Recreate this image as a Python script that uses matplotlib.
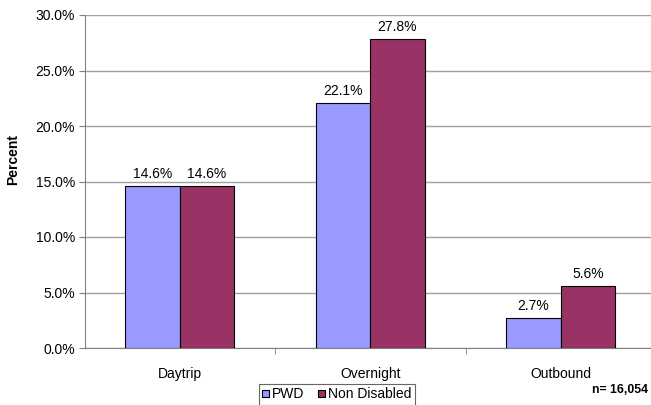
import matplotlib
matplotlib.use("Agg")
import matplotlib.pyplot as plt
import numpy as np

categories = ["Daytrip", "Overnight", "Outbound"]
pwd = [14.6, 22.1, 2.7]
non_disabled = [14.6, 27.8, 5.6]
series_names = ["PWD", "Non Disabled"]
yticks = [0, 5, 10, 15, 20, 25, 30]

plt.rcParams['font.family'] = ['Liberation Sans', 'DejaVu Sans']

fig = plt.figure(figsize=(6.51, 4.05), dpi=100)
W, H = 651, 405
left, right, top, bottom = 84.5, 656, 15, 348
ax = fig.add_axes([left / W, 1 - bottom / H, (right - left) / W, (bottom - top) / H])

x = np.arange(len(categories))
bw = 0.286
b1 = ax.bar(x - bw / 2, pwd, bw, color="#9999FF", edgecolor="black", linewidth=0.8, label=series_names[0], zorder=3)
b2 = ax.bar(x + bw / 2, non_disabled, bw, color="#993366", edgecolor="black", linewidth=0.8, label=series_names[1], zorder=3)

for bars, vals in ((b1, pwd), (b2, non_disabled)):
    for r, v in zip(bars, vals):
        ax.text(r.get_x() + r.get_width() / 2, v + 0.45, f"{v:.1f}%", ha="center", va="bottom", fontsize=10)

ax.set_xlim(-0.5, 2.5)
ax.set_ylim(0, 30)
ax.set_yticks(yticks)
ax.set_yticklabels([f"{t:.1f}%" for t in yticks], fontsize=10)
ax.yaxis.grid(True, color="#A0A0A0", linewidth=1.0, zorder=0)
ax.set_axisbelow(True)

ax.set_xticks(x)
ax.set_xticklabels(categories, fontsize=10)
ax.tick_params(axis="x", length=0, pad=14)
ax.set_xticks([0.5, 1.5], minor=True)
ax.tick_params(axis="x", which="minor", length=4, color="#808080")
ax.tick_params(axis="y", length=4, color="#808080", pad=3)

for s in ["top", "right"]:
    ax.spines[s].set_visible(False)
ax.spines["left"].set_color("#808080")
ax.spines["bottom"].set_color("#808080")

ax.set_ylabel("Percent", fontsize=10, fontweight="bold", va="center")
ax.yaxis.set_label_coords((13 - left) / (right - left), (bottom - 160) / (bottom - top))

leg = fig.legend(handles=[b1, b2], labels=series_names, loc="center", bbox_to_anchor=(337 / W, 1 - 394.5 / H),
                 ncol=2, fontsize=10, frameon=True, fancybox=False, edgecolor="#404040",
                 handlelength=0.45, handleheight=0.45, handletextpad=0.25, columnspacing=1.0,
                 borderpad=0.25, borderaxespad=0)
leg.get_frame().set_linewidth(0.8)

fig.text(648 / W, 1 - 390 / H, "n= 16,054", ha="right", va="center", fontsize=8.8, fontweight="bold")

fig.savefig("out.png", dpi=100)
